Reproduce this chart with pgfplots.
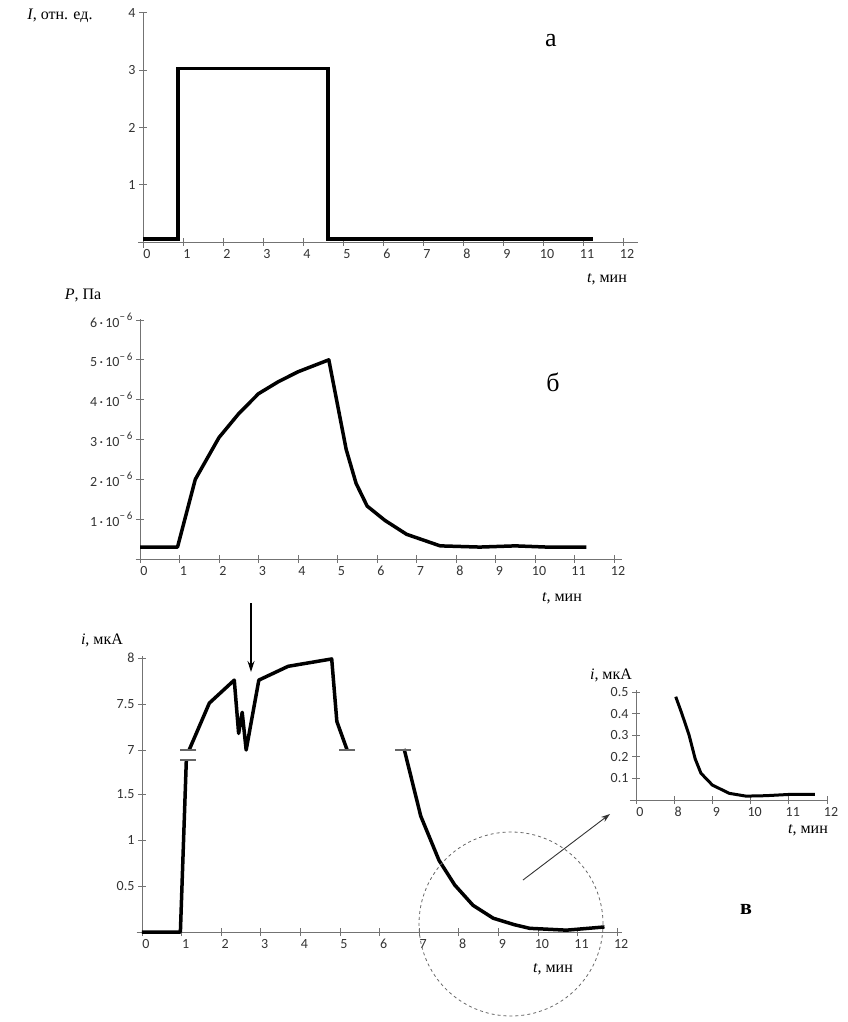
\documentclass[border=0pt]{standalone}
\usepackage{pgfplots}
\pgfplotsset{compat=1.18}
\usetikzlibrary{arrows.meta}
\usepackage{fontspec}
\setmainfont{Liberation Serif}
\newfontfamily\tickfont{Carlito}
\newcommand\lab{\fontsize{16}{18}\selectfont}
\newcommand\ptl[1]{#1\,·\,10\raisebox{1.0ex}{\fontsize{11}{11}\selectfont −\,6}}
\begin{document}
\begin{tikzpicture}
\path[use as bounding box] (0pt,0pt) rectangle (847pt,-1022pt);
\pgfplotsset{
  every axis/.append style={scale only axis, clip=false,
    /pgf/number format/assume math mode=true,
    axis line style={-, draw=black!55, line width=0.9pt},
    tick style={draw=black!55, line width=0.9pt}, major tick length=8pt, tick align=center,
    tick label style={font=\tickfont\fontsize{14}{15}\selectfont, text=black!80},
    x tick label style={xshift=4pt, text height=9pt, text depth=0pt},
    hide obscured x ticks=false, hide obscured y ticks=false},
  dat/.style={black, line width=3.5pt, line join=round}
}
% ---------- a ----------
\begin{axis}[at={(138pt,-247.7pt)}, anchor=south west, width=500.2pt, height=235.9pt,
  axis lines*=middle, xmin=-0.125, xmax=12.38, ymin=-0.1, ymax=4.02,
  xtick={0,...,12}, ytick={1,2,3,4}]
\addplot[dat, line join=miter] coordinates {(0,0.05) (0.87,0.05) (0.87,3.03) (4.63,3.03) (4.63,0.05) (11.25,0.05)};
\end{axis}
% ---------- b ----------
\begin{axis}[at={(135.5pt,-563pt)}, anchor=south west, width=486.4pt, height=243.8pt,
  axis lines*=middle, xmin=-0.114, xmax=12.2, ymin=-0.1e-6, ymax=6.02e-6, scaled y ticks=false,
  xtick={0,...,12}, ytick={1e-6,2e-6,3e-6,4e-6,5e-6,6e-6},
  yticklabels={\ptl1,\ptl2,\ptl3,\ptl4,\ptl5,\ptl6}]
\addplot[dat] coordinates {(0,0.3e-6) (0.95,0.3e-6) (1.4,2.0e-6) (2.0,3.05e-6) (2.5,3.65e-6) (3.0,4.15e-6) (3.5,4.45e-6) (4.0,4.7e-6) (4.78,5.0e-6) (5.22,2.75e-6) (5.47,1.9e-6) (5.75,1.33e-6) (6.2,0.97e-6) (6.75,0.62e-6) (7.6,0.33e-6) (8.6,0.3e-6) (9.5,0.33e-6) (10.3,0.3e-6) (11.3,0.3e-6)};
\end{axis}
% ---------- c, lower part ----------
\begin{axis}[at={(136.6pt,-936pt)}, anchor=south west, width=485.3pt, height=280pt,
  axis lines*=middle, xmin=-0.136, xmax=12.12, ymin=-0.0435, ymax=3.0,
  xtick={0,...,12}, ytick={0.5,1,1.5}, yticklabels={0.5,1,1.5}]
\addplot[dat] coordinates {(0,0) (0.97,0) (1.12,1.87)};
\addplot[dat] coordinates {(6.62,1.99) (7.04,1.26) (7.5,0.78) (7.9,0.51) (8.36,0.29) (8.87,0.15) (9.4,0.08) (9.79,0.04) (10.72,0.02) (11.68,0.055)};
\addplot[only marks, mark=-, mark size=8pt, mark options={draw=black!60, line width=1.2pt}] coordinates {(1.15,1.87)};
\end{axis}
% ---------- c, upper part ----------
\begin{axis}[at={(142pt,-936pt)}, anchor=south west, width=480pt, height=280pt,
  axis x line=none, axis y line*=left, y axis line style={draw=none}, xtick=\empty,
  xmin=0, xmax=12.12, ymin=4.978, ymax=8.022, ytick={7,7.5,8}, yticklabels={7,7.5,8}]
\addplot[dat] coordinates {(1.19,7.0) (1.70,7.51) (2.33,7.76) (2.44,7.18) (2.53,7.41) (2.63,7.0) (2.95,7.76) (3.69,7.91) (4.79,7.99) (4.92,7.31) (5.18,7.0)};
\addplot[only marks, mark=-, mark size=8pt, mark options={draw=black!60, line width=1.2pt}] coordinates {(1.17,7.0) (5.18,7.0) (6.6,7.0)};
\end{axis}
% ---------- inset ----------
\begin{axis}[at={(636pt,-800pt)}, anchor=south west, width=191pt, height=110.2pt,
  axis lines*=left, xmin=7, xmax=12.0, ymin=0, ymax=0.51,
  xtick={7,8,9,10,11,12}, xticklabels={0,8,9,10,11,12},
  ytick={0.1,0.2,0.3,0.4,0.5}, yticklabels={0.1,0.2,0.3,0.4,0.5}]
\draw[black!55, line width=0.9pt] (axis cs:6.84,0) -- (axis cs:7,0);
\addplot[black, line width=3pt, line join=round] coordinates {(8.04,0.478) (8.2,0.40) (8.39,0.30) (8.55,0.19) (8.70,0.124) (9.0,0.069) (9.44,0.031) (9.88,0.018) (10.4,0.02) (11.03,0.026) (11.68,0.026)};
\end{axis}
% ---------- annotations ----------
\draw[-{Stealth[length=11pt,width=7pt]}, line width=1.2pt] (251pt,-603pt) -- (251pt,-672pt);
\draw[black!60, dashed, line width=0.8pt] (511pt,-924pt) circle (92pt);
\draw[-{Stealth[length=9pt,width=6pt]}, line width=0.9pt, black!80] (523pt,-880pt) -- (610pt,-814pt);
\node at (60pt,-16pt) {\lab \textit{I}, отн. ед.};
\node at (83pt,-295pt) {\lab \textit{P}, Па};
\node at (102pt,-640pt) {\lab \textit{i}, мкА};
\node at (611pt,-675pt) {\lab \textit{i}, мкА};
\node at (607pt,-279pt) {\lab \textit{t}, мин};
\node at (562pt,-598pt) {\lab \textit{t}, мин};
\node at (553pt,-969pt) {\lab \textit{t}, мин};
\node at (808pt,-830pt) {\lab \textit{t}, мин};
\node at (551pt,-41pt) {\fontsize{26}{28}\selectfont а};
\node at (553pt,-382pt) {\fontsize{26}{28}\selectfont б};
\node at (746pt,-909pt) {\fontsize{22}{24}\selectfont\bfseries в};
\end{tikzpicture}
\end{document}
